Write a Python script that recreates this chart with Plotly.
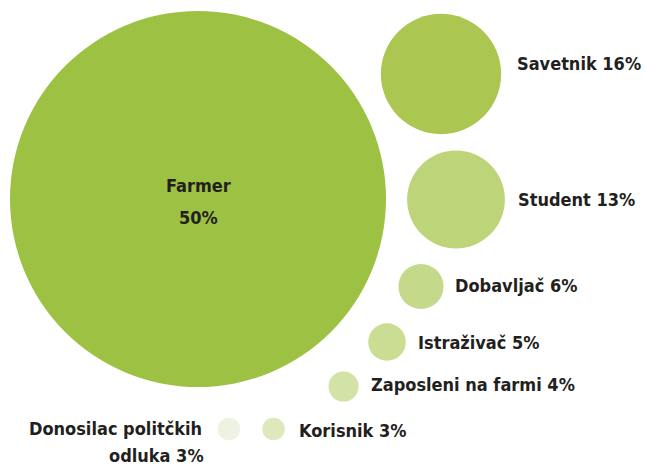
import plotly.graph_objects as go

# Data
categories = ["Farmer", "Savetnik", "Student", "Dobavljač", "Istraživač",
              "Zaposleni na farmi", "Korisnik", "Donosilac politčkih odluka"]
values = [50, 16, 13, 6, 5, 4, 3, 3]

# Layout (bubble centre positions in a pixel-like coordinate frame)
pos_x = [198, 441, 456, 421, 387, 343.5, 273.5, 229]
pos_y = [199, 74, 199.5, 286.5, 342, 386.5, 429, 429]
colors = ["#9dc243", "#abc751", "#bdd478", "#c5d98a", "#cadd92",
          "#d3e2a6", "#dde8bd", "#eef2e3"]

W, H = 645, 467
px_per_unit = 7.52  # diameter in px per percent point

FONT = "DejaVu Sans Condensed, Liberation Sans Narrow, Arial Narrow, sans-serif"
TXT = "#231f20"

fig = go.Figure()
fig.add_trace(go.Scatter(
    x=pos_x, y=pos_y, mode="markers",
    marker=dict(size=[v * px_per_unit for v in values], sizemode="diameter",
                sizeref=1, color=colors, line=dict(width=0), opacity=1),
    hoverinfo="text",
    hovertext=[f"{c} {v}%" for c, v in zip(categories, values)],
))

annotations = []
# Farmer label inside (two lines)
annotations.append(dict(x=pos_x[0], y=pos_y[0] - 14, text=f"<b>{categories[0]}</b>",
                        xanchor="center", yanchor="middle"))
annotations.append(dict(x=pos_x[0], y=pos_y[0] + 18, text=f"<b>{values[0]}%</b>",
                        xanchor="center", yanchor="middle"))
# Labels to the right of bubbles
gaps = [None, 14, 11, 9, 10, 10, 12]
dys = [None, -11, 0, -1, 0, -2, 1]
for i in range(1, 7):
    r = values[i] * px_per_unit / 2
    annotations.append(dict(x=pos_x[i] + r + gaps[i], y=pos_y[i] + dys[i],
                            text=f"<b>{categories[i]} {values[i]}%</b>",
                            xanchor="left", yanchor="middle"))
# Donosilac label to the left, two lines, right-aligned
r7 = values[7] * px_per_unit / 2
words = categories[7].split(" ")
line1 = " ".join(words[:2])
line2 = f"{words[2]} {values[7]}%"
annotations.append(dict(x=pos_x[7] - r7 - 14, y=428, text=f"<b>{line1}</b>",
                        xanchor="right", yanchor="middle"))
annotations.append(dict(x=pos_x[7] - r7 - 12, y=455, text=f"<b>{line2}</b>",
                        xanchor="right", yanchor="middle"))

for a in annotations:
    a.update(xref="x", yref="y", showarrow=False,
             font=dict(family=FONT, size=18, color=TXT))

fig.update_layout(
    width=W, height=H, margin=dict(l=0, r=0, t=0, b=0),
    paper_bgcolor="white", plot_bgcolor="white",
    showlegend=False, annotations=annotations,
    xaxis=dict(range=[0, W], visible=False, fixedrange=True),
    yaxis=dict(range=[H, 0], visible=False, fixedrange=True),
)
fig.write_html("out.html")
